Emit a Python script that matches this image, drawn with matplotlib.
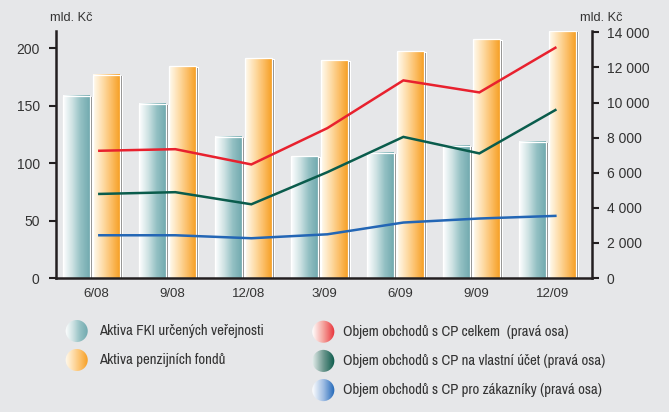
import numpy as np
import matplotlib
matplotlib.use("Agg")
import matplotlib.pyplot as plt
from matplotlib import font_manager
from matplotlib.colors import LinearSegmentedColormap
from matplotlib.patches import Circle

# data
periods = ["6/08", "9/08", "12/08", "3/09", "6/09", "9/09", "12/09"]
fki = [158.7, 151.7, 123, 106, 109, 115, 118.6]            # mld. Kč, left axis
penzijni = [177, 184.6, 191.5, 189.6, 197.6, 207.8, 215.5]  # mld. Kč, left axis
cp_celkem = [7250, 7340, 6470, 8540, 11260, 10575, 13120]    # right axis
cp_vlastni = [4790, 4890, 4200, 6030, 8040, 7100, 9570]
cp_zakaznici = [2435, 2435, 2265, 2490, 3160, 3390, 3540]

left_ticks = [0, 50, 100, 150, 200]
right_ticks = [0, 2000, 4000, 6000, 8000, 10000, 12000, 14000]

bar_labels = ["Aktiva FKI určených veřejnosti", "Aktiva penzijních fondů"]
line_labels = ["Objem obchodů s CP celkem  (pravá osa)",
               "Objem obchodů s CP na vlastní účet (pravá osa)",
               "Objem obchodů s CP pro zákazníky (pravá osa)"]

bg = "#e6e7e9"
ink = "#231f20"
txt = "#333333"
teal_cmap = LinearSegmentedColormap.from_list("teal", ["#ffffff", "#cfe3e4", "#93c0c3", "#72aaaf"])
orange_cmap = LinearSegmentedColormap.from_list("orange", ["#fffaf0", "#fedfae", "#fcc06a", "#f6a026"])
line_colors = ["#e8212e", "#0a5c4c", "#2366b5"]
circle_cmaps = [
    LinearSegmentedColormap.from_list("r", ["#ffffff", "#f5a29c", "#e8323a"]),
    LinearSegmentedColormap.from_list("g", ["#e6eeec", "#6f9990", "#0a5a4a"]),
    LinearSegmentedColormap.from_list("b", ["#ffffff", "#9fbde3", "#1f66b8"]),
]

tick_font = "Liberation Sans"
# a narrow face if one is installed, otherwise plain Liberation Sans sized to fit
narrow = [f.name for f in font_manager.fontManager.ttflist
          if "Narrow" in f.name or "Condensed" in f.name]
legend_font = [narrow[0]] if narrow else []
legend_font += ["Liberation Sans", "DejaVu Sans"]

W, H = 669, 412
fig = plt.figure(figsize=(W / 100, H / 100), dpi=100, facecolor=bg)
ax = fig.add_axes([55.7 / W, 1 - 278 / H, (592.3 - 55.7) / W, (278 - 31) / H])
ax.set_facecolor(bg)

xmin, xmax = -0.534, 6.526
ymax = 215.1
x = np.arange(len(periods))
bw = 0.355
px_x = (xmax - xmin) / (592.3 - 55.7)   # data units per pixel
px_y = ymax / (278 - 31)
grad = np.linspace(0, 1, 64).reshape(1, -1)

def gradient_bar(xc, h, cmap):
    x0, x1 = xc - bw / 2, xc + bw / 2
    # white outer line and gray shadow on the right
    ax.add_patch(plt.Rectangle((x1, 0), 3 * px_x, h - 1 * px_y, color="white", lw=0, zorder=1))
    ax.add_patch(plt.Rectangle((x1, 0), 2 * px_x, h - 1.5 * px_y, color="#8a8a8a", lw=0, zorder=1.5))
    ax.imshow(grad, extent=[x0, x1, 0, h], aspect="auto", cmap=cmap, zorder=2)
    ax.add_patch(plt.Rectangle((x0, 0), bw, h, fill=False, ec="white", lw=0.9, zorder=2.5))

for i in range(len(periods)):
    gradient_bar(x[i] - 0.255, fki[i], teal_cmap)
    gradient_bar(x[i] + 0.13, penzijni[i], orange_cmap)

ax.set_xlim(xmin, xmax)
ax.set_ylim(0, ymax)
ax.set_xticks(x)
ax.set_xticklabels(periods)
ax.set_yticks(left_ticks)
ax.tick_params(axis="x", length=0, pad=7, labelsize=9.5, labelcolor=txt)
ax.tick_params(axis="y", direction="out", length=5, width=1.5, color=ink, pad=6.5,
               labelsize=10, labelcolor=txt)
for lab in ax.get_xticklabels() + ax.get_yticklabels():
    lab.set_family(tick_font)
for s in ["top", "right"]:
    ax.spines[s].set_visible(False)
for s in ["left", "bottom"]:
    ax.spines[s].set_color(ink)
    ax.spines[s].set_linewidth(1.8)

ax2 = ax.twinx()
for vals, c in zip([cp_celkem, cp_vlastni, cp_zakaznici], line_colors):
    ax2.plot(x + 0.04, vals, color=c, lw=1.8, solid_joinstyle="miter", zorder=3)
ax2.set_ylim(0, 14000 * (278 - 31) / (278 - 32.3))
ax2.set_yticks(right_ticks)
ax2.set_yticklabels([f"{v:,}".replace(",", " ") for v in right_ticks])
ax2.tick_params(axis="y", direction="out", length=5, width=1.5, color=ink, pad=5.5,
                labelsize=10, labelcolor=txt)
for lab in ax2.get_yticklabels():
    lab.set_family(tick_font)
for s in ["top", "left", "bottom"]:
    ax2.spines[s].set_visible(False)
ax2.spines["right"].set_color(ink)
ax2.spines["right"].set_linewidth(1.8)

fig.text(71.5 / W, 1 - 18 / H, "mld. Kč", ha="center", va="center", fontsize=9.2,
         family=tick_font, color=txt)
fig.text(601.7 / W, 1 - 18 / H, "mld. Kč", ha="center", va="center", fontsize=9.2,
         family=tick_font, color=txt)

# legend with round gradient markers
legend_texts = []

def legend_item(cx, cy, tx, cmap, label):
    d = 23
    lax = fig.add_axes([(cx - d / 2) / W, 1 - (cy + d / 2) / H, d / W, d / H])
    lax.set_axis_off()
    im = lax.imshow(grad, extent=[0, 1, 0, 1], aspect="auto", cmap=cmap)
    circ = Circle((0.5, 0.5), 0.48, transform=lax.transAxes)
    im.set_clip_path(circ)
    t = fig.text(tx / W, 1 - cy / H, label, ha="left", va="center", fontsize=10,
                 family=legend_font, color=txt)
    legend_texts.append(t)

legend_item(76.7, 331, 99.3, teal_cmap, bar_labels[0])
legend_item(76.7, 360, 99.3, orange_cmap, bar_labels[1])
for k, lab in enumerate(line_labels):
    legend_item(323.3, 331.7 + k * 29.2, 342.7, circle_cmaps[k], lab)

# size the legend text so the longest line spans what it spans in the reference (~263 px)
size = 10.0
for _ in range(3):
    fig.canvas.draw()
    wpx = legend_texts[3].get_window_extent().width
    size = min(11.5, size * 263 / wpx)
    for t in legend_texts:
        t.set_fontsize(size)

fig.savefig("out.png", dpi=100, facecolor=bg)
